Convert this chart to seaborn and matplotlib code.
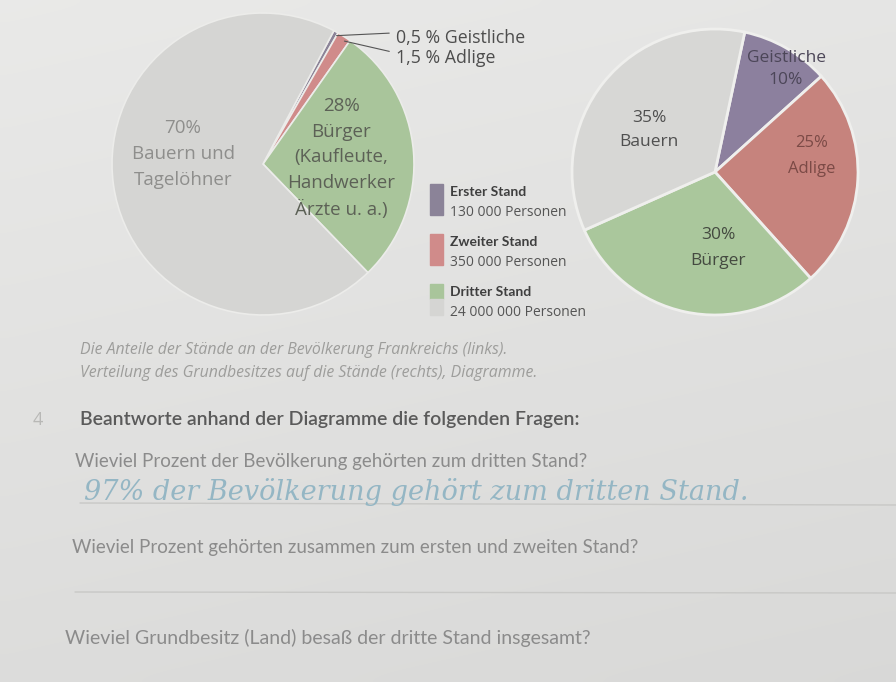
import numpy as np
import matplotlib
matplotlib.use("Agg")
import matplotlib.pyplot as plt
import seaborn as sns
from matplotlib.patches import Rectangle

# Daten: Anteile der Stände an der Bevölkerung (links) und am Grundbesitz (rechts)
left_names = ["Geistliche", "Adlige", "Bürger", "Bauern und Tagelöhner"]
left_shares = [0.5, 1.5, 28, 70]
right_names = ["Geistliche", "Adlige", "Bürger", "Bauern"]
right_shares = [10, 25, 30, 35]
stand_names = ["Erster Stand", "Zweiter Stand", "Dritter Stand"]
stand_people = ["130 000 Personen", "350 000 Personen", "24 000 000 Personen"]

left_colors = ["#8b8398", "#d08b8a", "#a9c59b", "#d5d5d3"]
right_colors = ["#8c809e", "#c6837d", "#aac79c", "#d7d7d5"]

sns.set_theme(style="white")
plt.rcParams["font.family"] = ["Open Sans", "DejaVu Sans"]
narrow = ["Lato", "DejaVu Sans"]

W, H = 896, 682
fig = plt.figure(figsize=(W / 100, H / 100), dpi=100)


def fx(x, y):
    return x / W, 1 - y / H


def box(left, top, right, bottom):
    return [left / W, 1 - bottom / H, (right - left) / W, (bottom - top) / H]


# leicht ungleichmäßiger Papierhintergrund
bg = fig.add_axes([0, 0, 1, 1], zorder=-10)
gx, gy = np.meshgrid(np.linspace(0, 1, 64), np.linspace(0, 1, 64))
grad = 0.915 - 0.05 * gy - 0.015 * gx
bg.imshow(np.dstack([grad, grad, grad * 0.995]), extent=[0, 1, 0, 1],
          aspect="auto", interpolation="bicubic")
bg.axis("off")

# linkes Kreisdiagramm
ax1 = fig.add_axes(box(112, 13, 414, 315))
w1, _ = ax1.pie(left_shares, colors=left_colors, startangle=62, counterclock=False,
                wedgeprops=dict(edgecolor="#ececea", linewidth=1.2))
ax1.set_xlim(-1, 1)
ax1.set_ylim(-1, 1)

# rechtes Kreisdiagramm
ax2 = fig.add_axes(box(572, 29, 858, 315))
w2, _ = ax2.pie(right_shares, colors=right_colors, startangle=78, counterclock=False,
                wedgeprops=dict(edgecolor="#efefed", linewidth=2))
ax2.set_xlim(-1, 1)
ax2.set_ylim(-1, 1)

# Beschriftungen links mit Hinweislinien
for wedge, name, share, ty in zip(w1[:2], left_names[:2], left_shares[:2], [38, 58]):
    mid = np.deg2rad((wedge.theta1 + wedge.theta2) / 2)
    ax1.annotate("", xy=(0.97 * np.cos(mid), 0.97 * np.sin(mid)),
                 xytext=fx(392, 33 if ty == 38 else 52), textcoords="figure fraction",
                 arrowprops=dict(arrowstyle="-", color="#555555", lw=0.8))
    fig.text(*fx(396, ty), f"{share:g} % {name}".replace(".", ","), fontsize=12.8,
             color="#4d4d4d", va="center", ha="left")

fig.text(*fx(183, 154), f"{left_shares[3]:g}%\nBauern und\nTagelöhner", fontsize=13.5,
         color="#8e8e8c", ha="center", va="center", linespacing=1.56)
fig.text(*fx(341, 158), f"{left_shares[2]:g}%\nBürger\n(Kaufleute,\nHandwerker\nÄrzte u. a.)",
         fontsize=13.5, color="#5c6156", ha="center", va="center", linespacing=1.53)

# Beschriftungen rechts
fig.text(*fx(649, 130), f"{right_shares[3]}%\n{right_names[3]}", fontsize=12.5,
         color="#4f4f4f", ha="center", va="center", linespacing=1.7)
fig.text(*fx(786, 69), f"{right_names[0]}\n{right_shares[0]}%", fontsize=12.5,
         color="#4c4658", ha="center", va="center", linespacing=1.47)
fig.text(*fx(812, 156), f"{right_shares[1]}%\n{right_names[1]}", fontsize=12,
         color="#7b4a46", ha="center", va="center", linespacing=1.85)
fig.text(*fx(718, 248), f"{right_shares[2]}%\n{right_names[2]}", fontsize=12.5,
         color="#444a40", ha="center", va="center", linespacing=1.78)

# Legende
legend_tops = [184, 234, 284]
for i, (name, people, top) in enumerate(zip(stand_names, stand_people, legend_tops)):
    if i < 2:
        fig.patches.append(Rectangle(fx(430, top + 31), 13 / W, 31 / H,
                                     transform=fig.transFigure, color=left_colors[i]))
    else:
        fig.patches.append(Rectangle(fx(430, top + 15), 13 / W, 15 / H,
                                     transform=fig.transFigure, color=left_colors[2]))
        fig.patches.append(Rectangle(fx(430, top + 31), 13 / W, 16 / H,
                                     transform=fig.transFigure, color=left_colors[3]))
    fig.text(*fx(450, top + 8), name, fontsize=10, fontweight="bold",
             color="#3f3f3f", va="center", family=narrow)
    fig.text(*fx(450, top + 29), people, fontsize=10, color="#555555", va="center")

# Bildunterschrift
fig.text(*fx(80, 350), "Die Anteile der Stände an der Bevölkerung Frankreichs (links).",
         fontsize=11.4, style="italic", color="#9d9d9b", va="center")
fig.text(*fx(80, 373), "Verteilung des Grundbesitzes auf die Stände (rechts), Diagramme.",
         fontsize=11.4, style="italic", color="#9d9d9b", va="center")

# Aufgabe
fig.text(*fx(33, 420), "4", fontsize=13, color="#b8b8b6", va="center")
fig.text(*fx(80, 420), "Beantworte anhand der Diagramme die folgenden Fragen:", fontsize=14,
         color="#5a5a5a", va="center", family=narrow, fontweight="semibold")
fig.text(*fx(75, 461), "Wieviel Prozent der Bevölkerung gehörten zum dritten Stand?",
         fontsize=13.5, color="#8b8b8b", va="center", family=narrow)
fig.text(*fx(84, 492), "97% der Bevölkerung gehört zum dritten Stand.", fontsize=19.5,
         style="italic", color="#94b6c4", va="center", family=["DejaVu Serif"])
fig.add_artist(plt.Line2D([80 / W, 1], [1 - 503 / H, 1 - 505 / H], color="#c8c8c6", lw=1))
fig.text(*fx(72, 548), "Wieviel Prozent gehörten zusammen zum ersten und zweiten Stand?",
         fontsize=13.5, color="#8b8b8b", va="center", family=narrow)
fig.add_artist(plt.Line2D([75 / W, 1], [1 - 592 / H, 1 - 593 / H], color="#c8c8c6", lw=1))
fig.text(*fx(65, 638), "Wieviel Grundbesitz (Land) besaß der dritte Stand insgesamt?",
         fontsize=14, color="#8b8b8b", va="center", family=narrow)

fig.savefig("out.png", dpi=100)
